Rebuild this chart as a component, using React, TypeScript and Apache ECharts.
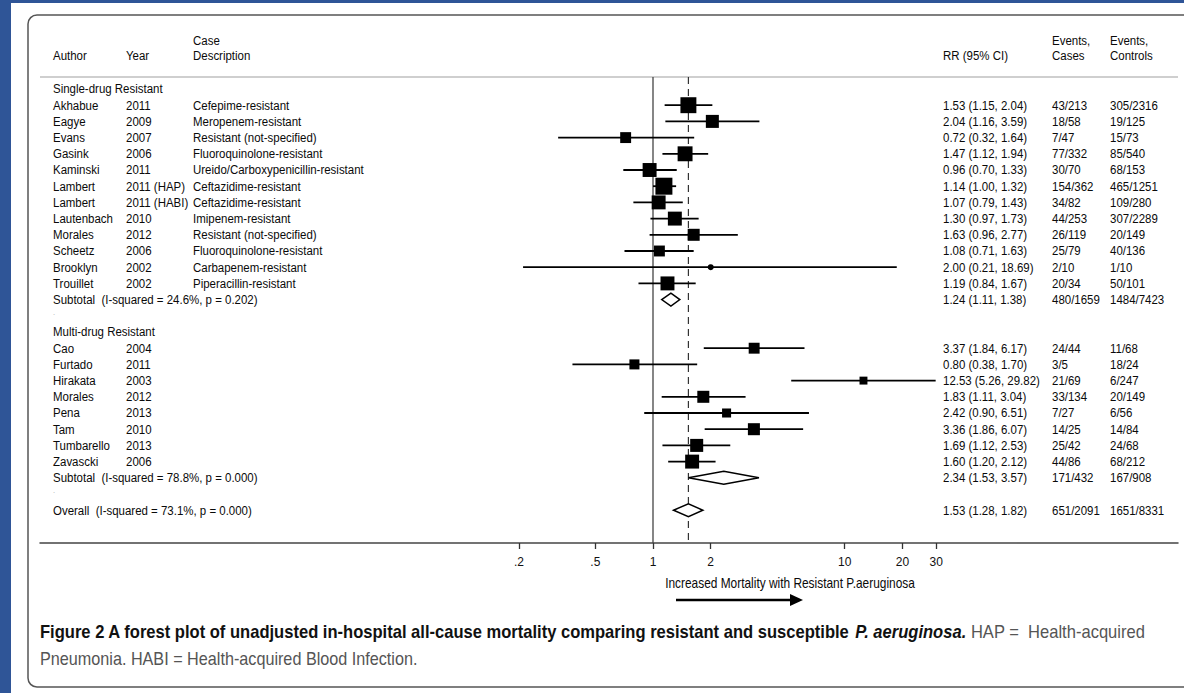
import React, { useEffect, useRef } from "react";
import * as echarts from "echarts";

// ---------- data ----------
const sdrAuthors = ["Akhabue", "Eagye", "Evans", "Gasink", "Kaminski", "Lambert", "Lambert", "Lautenbach", "Morales", "Scheetz", "Brooklyn", "Trouillet"];
const sdrYears = ["2011", "2009", "2007", "2006", "2011", "2011 (HAP)", "2011 (HABI)", "2010", "2012", "2006", "2002", "2002"];
const sdrDescriptions = ["Cefepime-resistant", "Meropenem-resistant", "Resistant (not-specified)", "Fluoroquinolone-resistant", "Ureido/Carboxypenicillin-resistant", "Ceftazidime-resistant", "Ceftazidime-resistant", "Imipenem-resistant", "Resistant (not-specified)", "Fluoroquinolone-resistant", "Carbapenem-resistant", "Piperacillin-resistant"];
const sdrRR = [1.53, 2.04, 0.72, 1.47, 0.96, 1.14, 1.07, 1.3, 1.63, 1.08, 2.0, 1.19];
const sdrLower = [1.15, 1.16, 0.32, 1.12, 0.7, 1.0, 0.79, 0.97, 0.96, 0.71, 0.21, 0.84];
const sdrUpper = [2.04, 3.59, 1.64, 1.94, 1.33, 1.32, 1.43, 1.73, 2.77, 1.63, 18.69, 1.67];
const sdrCases = ["43/213", "18/58", "7/47", "77/332", "30/70", "154/362", "34/82", "44/253", "26/119", "25/79", "2/10", "20/34"];
const sdrControls = ["305/2316", "19/125", "15/73", "85/540", "68/153", "465/1251", "109/280", "307/2289", "20/149", "40/136", "1/10", "50/101"];
const sdrWeights = [8.1, 5.4, 3.8, 7.1, 6.2, 9.2, 6.2, 6.2, 4.6, 3.8, 0.8, 6.2];

const mdrAuthors = ["Cao", "Furtado", "Hirakata", "Morales", "Pena", "Tam", "Tumbarello", "Zavascki"];
const mdrYears = ["2004", "2011", "2003", "2012", "2013", "2010", "2013", "2006"];
const mdrRR = [3.37, 0.8, 12.53, 1.83, 2.42, 3.36, 1.69, 1.6];
const mdrLower = [1.84, 0.38, 5.26, 1.11, 0.9, 1.86, 1.12, 1.2];
const mdrUpper = [6.17, 1.7, 29.82, 3.04, 6.51, 6.07, 2.53, 2.12];
const mdrCases = ["24/44", "3/5", "21/69", "33/134", "7/27", "14/25", "25/42", "44/86"];
const mdrControls = ["11/68", "18/24", "6/247", "20/149", "6/56", "14/84", "24/68", "68/212"];
const mdrWeights = [3.8, 3.2, 2.0, 4.6, 2.6, 4.6, 5.4, 6.2];

const sdrSubtotal = { label: "Subtotal  (I-squared = 24.6%, p = 0.202)", rr: 1.24, lo: 1.11, hi: 1.38, cases: "480/1659", controls: "1484/7423" };
const mdrSubtotal = { label: "Subtotal  (I-squared = 78.8%, p = 0.000)", rr: 2.34, lo: 1.53, hi: 3.57, cases: "171/432", controls: "167/908" };
const overall = { label: "Overall  (I-squared = 73.1%, p = 0.000)", rr: 1.53, lo: 1.28, hi: 1.82, cases: "651/2091", controls: "1651/8331" };

const groupTitles = ["Single-drug Resistant", "Multi-drug Resistant"];
const axisTicks = [0.2, 0.5, 1, 2, 10, 20, 30];
const axisTitle = "Increased Mortality with Resistant P.aeruginosa";
const captionBold = "Figure 2 A forest plot of unadjusted in-hospital all-cause mortality comparing resistant and susceptible ";
const captionItalic = "P. aeruginosa.";
const captionRest1 = " HAP =  Health-acquired";
const captionRest2 = "Pneumonia. HABI = Health-acquired Blood Infection.";

// ---------- rows ----------
type Row = {
  kind: "group" | "study" | "subtotal" | "blank";
  label?: string; year?: string; desc?: string;
  rr?: number; lo?: number; hi?: number; w?: number;
  cases?: string; controls?: string;
};
const rows: Row[] = [];
rows.push({ kind: "group", label: groupTitles[0] });
sdrAuthors.forEach((a, i) => rows.push({ kind: "study", label: a, year: sdrYears[i], desc: sdrDescriptions[i], rr: sdrRR[i], lo: sdrLower[i], hi: sdrUpper[i], w: sdrWeights[i], cases: sdrCases[i], controls: sdrControls[i] }));
rows.push({ kind: "subtotal", ...sdrSubtotal });
rows.push({ kind: "blank" });
rows.push({ kind: "group", label: groupTitles[1] });
mdrAuthors.forEach((a, i) => rows.push({ kind: "study", label: a, year: mdrYears[i], rr: mdrRR[i], lo: mdrLower[i], hi: mdrUpper[i], w: mdrWeights[i], cases: mdrCases[i], controls: mdrControls[i] }));
rows.push({ kind: "subtotal", ...mdrSubtotal });
rows.push({ kind: "blank" });
rows.push({ kind: "subtotal", ...overall });

const fmt = (v: number) => v.toFixed(2);

// ---------- layout ----------
const FONT = "'Liberation Sans', Arial, sans-serif";
const FS = 13.5;
const SX = 0.85;
const GRID_L = 40, GRID_R = 1178, GRID_T = 77, GRID_B = 543;
const X_ONE = 653, PX_DEC = 191.7;
const ROW0 = 89, ROW_STEP = 16.2;
const COL = { author: 53, year: 126, desc: 193, rr: 943, cases: 1052, controls: 1110 };

export default function App() {
  const ref = useRef<HTMLDivElement>(null);
  useEffect(() => {
    if (!ref.current) return;
    const chart = echarts.init(ref.current, undefined, { renderer: "svg" });
    const xMin = Math.pow(10, (GRID_L - X_ONE) / PX_DEC);
    const xMax = Math.pow(10, (GRID_R - X_ONE) / PX_DEC);
    const yMin = (GRID_T - ROW0) / ROW_STEP;
    const yMax = (GRID_B - ROW0) / ROW_STEP;

    const txt = (x: number, y: number, s: string, extra: any = {}) => ({
      type: "text",
      x, y, scaleX: SX,
      style: { text: s, fill: "#0a0a0a", fontSize: FS, fontFamily: FONT, verticalAlign: "middle", align: "left", ...extra },
    });

    const option: any = {
      animation: false,
      backgroundColor: "#fff",
      grid: { left: GRID_L, right: 1184 - GRID_R, top: GRID_T, height: GRID_B - GRID_T },
      xAxis: {
        type: "log",
        logBase: 10,
        min: xMin,
        max: xMax,
        axisLine: { show: true, onZero: false, lineStyle: { color: "#444", width: 1.5 } },
        axisTick: { show: true, customValues: axisTicks, length: 6, lineStyle: { color: "#333", width: 1.3 } },
        axisLabel: {
          customValues: axisTicks,
          margin: 13,
          color: "#111",
          fontSize: 12,
          fontFamily: FONT,
          formatter: (v: number) => (v < 1 ? String(v).replace(/^0/, "") : String(v)),
        },
        splitLine: { show: false },
        minorTick: { show: false },
      },
      yAxis: { type: "value", inverse: true, min: yMin, max: yMax, show: false },
      series: [
        {
          type: "custom",
          z: 1,
          silent: true,
          data: [[1, 0], [overall.rr, 0]],
          encode: { x: 0, y: 1 },
          renderItem: (params: any, api: any) => {
            const x = api.coord([api.value(0), 0])[0];
            const cs = params.coordSys;
            const dashed = params.dataIndex === 1;
            return {
              type: "line",
              shape: { x1: x, y1: cs.y, x2: x, y2: cs.y + cs.height },
              style: { stroke: dashed ? "#333" : "#444", lineWidth: dashed ? 1.2 : 1.3, lineDash: dashed ? [7, 5] : null },
            };
          },
        },
        {
          type: "custom",
          z: 2,
          silent: true,
          clip: false,
          data: rows.map((r, i) => [r.rr ?? 1, i]),
          encode: { x: 0, y: 1 },
          renderItem: (params: any, api: any) => {
            const r = rows[params.dataIndex];
            const idx = api.value(1);
            const y = api.coord([1, idx])[1];
            const children: any[] = [];
            if (r.kind === "group") {
              children.push(txt(COL.author, y, r.label!));
            } else if (r.kind === "blank") {
              children.push(txt(COL.author, y - 4, ".", { fill: "#bbb", fontSize: 9 }));
            } else if (r.kind === "study") {
              children.push(txt(COL.author, y, r.label!));
              children.push(txt(COL.year, y, r.year!));
              if (r.desc) children.push(txt(COL.desc, y, r.desc));
              const xl = api.coord([r.lo!, idx])[0];
              const xh = api.coord([r.hi!, idx])[0];
              const xc = api.coord([r.rr!, idx])[0];
              children.push({ type: "line", shape: { x1: xl, y1: y, x2: xh, y2: y }, style: { stroke: "#000", lineWidth: 1.8 } });
              const s = 5.6 * Math.sqrt(r.w!);
              if (r.w! < 1.5) {
                children.push({ type: "circle", shape: { cx: xc, cy: y, r: 3 }, style: { fill: "#000" } });
              } else {
                children.push({ type: "rect", shape: { x: xc - s / 2, y: y - s / 2, width: s, height: s }, style: { fill: "#000" } });
              }
              children.push(txt(COL.rr, y, `${fmt(r.rr!)} (${fmt(r.lo!)}, ${fmt(r.hi!)})`));
              children.push(txt(COL.cases, y, r.cases!));
              children.push(txt(COL.controls, y, r.controls!));
            } else {
              children.push(txt(COL.author, y, r.label!));
              const xl = api.coord([r.lo!, idx])[0];
              const xh = api.coord([r.hi!, idx])[0];
              const xc = api.coord([r.rr!, idx])[0];
              const h = 6.5;
              children.push({
                type: "polygon",
                shape: { points: [[xl, y], [xc, y - h], [xh, y], [xc, y + h]] },
                style: { fill: "#fff", stroke: "#000", lineWidth: 1.5 },
              });
              children.push(txt(COL.rr, y, `${fmt(r.rr!)} (${fmt(r.lo!)}, ${fmt(r.hi!)})`));
              children.push(txt(COL.cases, y, r.cases!));
              children.push(txt(COL.controls, y, r.controls!));
            }
            return { type: "group", children };
          },
        },
      ],
      graphic: [
        { type: "rect", silent: true, z: -10, shape: { x: 0, y: 0, width: 11, height: 693 }, style: { fill: "#2f5597" } },
        { type: "rect", silent: true, z: -10, shape: { x: 0, y: 0, width: 1184, height: 3 }, style: { fill: "#2f5597" } },
        { type: "rect", silent: true, shape: { x: 28, y: 15, width: 1175, height: 672, r: 9 }, style: { fill: "rgba(0,0,0,0)", stroke: "#555", lineWidth: 1.5 } },
        { type: "line", silent: true, shape: { x1: GRID_L, y1: GRID_T, x2: GRID_R, y2: GRID_T }, style: { stroke: "#cfcfcf", lineWidth: 2 } },
        { ...txt(COL.author, 56, "Author"), silent: true },
        { ...txt(COL.year, 56, "Year"), silent: true },
        { ...txt(COL.desc, 41, "Case"), silent: true },
        { ...txt(COL.desc, 56, "Description"), silent: true },
        { ...txt(COL.rr, 56, "RR (95% CI)"), silent: true },
        { ...txt(COL.cases, 41, "Events,"), silent: true },
        { ...txt(COL.cases, 56, "Cases"), silent: true },
        { ...txt(COL.controls, 41, "Events,"), silent: true },
        { ...txt(COL.controls, 56, "Controls"), silent: true },
        { ...txt(790, 583, axisTitle, { align: "center", fontSize: 14 }), silent: true },
        { type: "line", silent: true, shape: { x1: 676, y1: 600, x2: 793, y2: 600 }, style: { stroke: "#000", lineWidth: 2.5 } },
        { type: "polygon", silent: true, shape: { points: [[790, 594], [803, 600], [790, 606]] }, style: { fill: "#000" } },
        {
          type: "text", silent: true, x: 40, y: 632, scaleX: 0.92,
          style: {
            text: `{b|${captionBold}}{bi|${captionItalic}}{r|${captionRest1}}`,
            verticalAlign: "middle",
            rich: {
              b: { fontFamily: FONT, fontWeight: "bold", fontSize: 18, fill: "#111" },
              bi: { fontFamily: FONT, fontWeight: "bold", fontStyle: "italic", fontSize: 18, fill: "#111" },
              r: { fontFamily: FONT, fontSize: 18, fill: "#555" },
            },
          },
        },
        {
          type: "text", silent: true, x: 40, y: 659, scaleX: 0.9,
          style: { text: captionRest2, fontFamily: FONT, fontSize: 18, fill: "#555", verticalAlign: "middle" },
        },
      ],
    };
    chart.setOption(option);
    return () => chart.dispose();
  }, []);
  return <div ref={ref} style={{ position: "fixed", left: 0, top: 0, width: 1184, height: 693 }} />;
}
